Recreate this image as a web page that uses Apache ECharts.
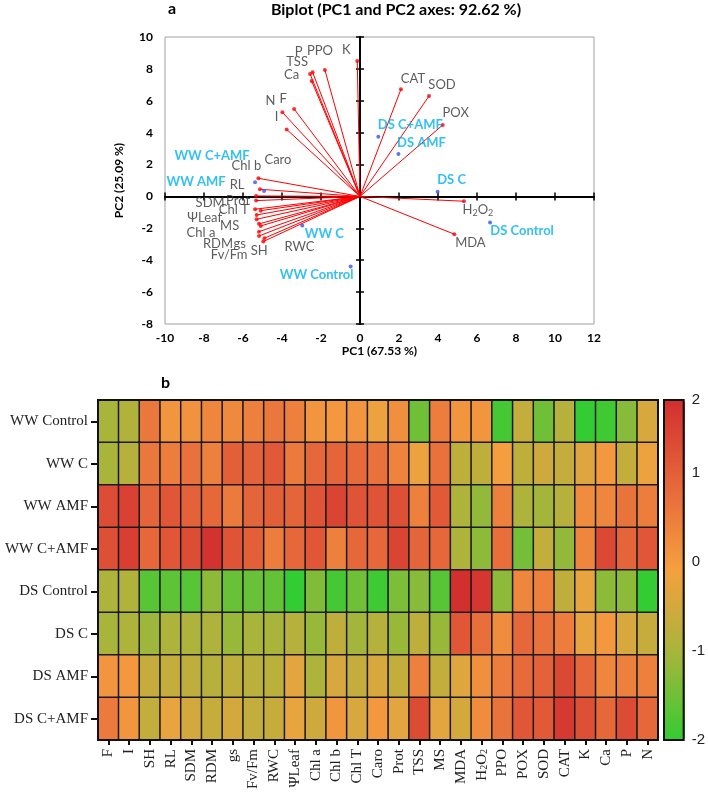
<!DOCTYPE html>
<html><head><meta charset="utf-8">
<script src="https://cdn.jsdelivr.net/npm/echarts@6/dist/echarts.min.js"></script>
<style>html,body{margin:0;padding:0;background:#fff}#c{width:708px;height:796px}</style>
</head><body><div id="c"></div>
<script>
// ---------- Biplot data ----------
const varNames = ['F','I','SH','RL','SDM','RDM','gs','Fv/Fm','RWC','ΨLeaf','Chl a','Chl b','Chl T','Caro','Prot','TSS','MS','MDA','H2O2','PPO','POX','SOD','CAT','K','Ca','P','N'];
const varPC1 = [-3.38,-3.76,-4.96,-5.33,-5.38,-5.18,-5.09,-5.18,-4.90,-5.30,-5.18,-5.21,-5.09,-5.13,-5.33,-2.56,-5.30,4.84,5.33,-1.80,4.24,3.54,2.10,-0.14,-2.48,-2.43,-3.98];
const varPC2 = [5.49,4.20,-2.83,0.03,-0.80,-2.21,-1.85,-2.48,-2.62,-1.16,-1.72,1.14,-0.89,0.45,-0.26,7.68,-1.43,-2.37,-0.30,7.93,4.48,6.30,6.72,8.50,7.24,7.79,5.28];
const obsNames = ['WW Control','WW C','WW AMF','WW C+AMF','DS Control','DS C','DS AMF','DS C+AMF'];
const obsPC1 = [-0.48,-2.96,-5.38,-4.92,6.67,3.98,1.97,0.94];
const obsPC2 = [-4.40,-1.83,0.89,0.34,-1.64,0.30,2.66,3.75];

// ---------- Heatmap data (rows = treatments, columns = varNames) ----------
const hmWWControl = [-1.0,-0.9,0.6,0.1,0.15,0.35,0.3,0.45,0.6,0.45,0.1,0.05,0.1,-0.2,0.2,-1.5,0.5,0.1,0.1,-1.85,-0.7,-1.5,-0.85,-2.0,-1.9,-1.3,-0.45];
const hmWWC       = [-1.0,-0.85,0.6,0.5,0.7,0.45,1.0,0.95,1.1,0.55,0.85,0.9,0.8,0.7,0.4,-0.2,0.7,-0.75,-0.75,-0.05,-0.75,-0.55,-0.7,-0.35,0.05,-0.7,-0.2];
const hmWWAMF     = [1.3,1.5,0.9,1.15,0.95,0.85,0.55,0.9,1.0,0.9,1.2,1.45,1.2,1.2,1.25,0.45,1.1,-0.95,-1.2,0.45,-0.95,-1.05,-0.85,0.25,0.35,0.65,0.5];
const hmWWCAMF    = [1.25,1.55,0.85,1.15,1.3,1.75,1.2,1.0,0.5,0.85,1.15,0.45,0.85,0.85,1.45,0.9,0.85,-0.95,-1.25,0.75,-1.45,-0.7,-1.2,0.35,1.4,0.9,1.15];
const hmDSControl = [-0.95,-0.9,-1.7,-1.65,-1.7,-1.25,-1.55,-1.55,-1.6,-2.0,-1.35,-1.85,-1.5,-1.9,-1.4,-1.3,-1.7,1.8,1.7,-1.25,0.35,0.45,-0.75,-0.25,-1.25,-1.25,-2.0];
const hmDSC       = [-1.0,-0.95,-1.1,-0.95,-0.95,-0.95,-1.15,-1.0,-1.0,-0.85,-1.15,-0.75,-1.05,-0.85,-1.15,-0.75,-1.15,1.15,0.75,0.25,0.85,0.7,0.5,-0.25,0.05,-0.45,-0.65];
const hmDSAMF     = [0.1,0.05,-0.65,-0.7,-0.75,-0.85,-0.75,-0.8,-0.8,-0.3,-0.95,-0.45,-0.7,-0.45,-0.7,0.45,-0.7,-0.35,0.2,0.5,0.8,0.95,1.4,0.85,0.35,0.45,0.45];
const hmDSCAMF    = [0.55,0.1,-0.7,-0.25,-0.5,-0.65,-0.5,-0.7,-0.65,-0.25,-0.55,0.1,-0.45,0.05,-0.3,1.35,-0.3,-0.5,0.25,0.65,1.15,1.1,1.65,1.25,0.85,1.35,0.85];
const hmRows = [hmWWControl,hmWWC,hmWWAMF,hmWWCAMF,hmDSControl,hmDSC,hmDSAMF,hmDSCAMF];
const colorbarMin = -2, colorbarMax = 1.82;

// ---------- label placement (style only) ----------
const varLabelOffset = {
  'K':[-11,-11],'PPO':[-5,-19],'P':[-14,-20],'TSS':[-13,-12],'Ca':[-20,-6],'N':[-12,-11],'F':[-11,-10],'I':[-10,-13],
  'CAT':[12,-10],'SOD':[13,-11],'POX':[13,-12],'H2O2':[14,9],'MDA':[16,9],
  'Chl b':[-12,-12],'Caro':[18,-29],'RL':[-19,-11],'Prot':[-18,0],'SDM':[-45,-6],'Chl T':[-27,-1],'ΨLeaf':[-52,3],
  'MS':[-27,7],'Chl a':[-58,9],'RDM':[-41,12],'gs':[-21,18],'SH':[-4,9],'Fv/Fm':[-30,19],'RWC':[35,9]
};
const obsLabelOffset = {
  'WW C+AMF':[-52,-35],'WW AMF':[-59,0],'WW C':[22,8],'WW Control':[-34,8],
  'DS C+AMF':[32,-12],'DS AMF':[23,-11],'DS C':[14,-12],'DS Control':[32,8]
};
const fmtName = n => n === 'H2O2' ? 'H{s|2}O{s|2}' : n;

const F = 'Lato, "Liberation Sans", sans-serif';
const SERIF = '"Liberation Serif", "Times New Roman", serif';

const bx = {min:-10,max:12,interval:2}, by = {min:-8,max:10,interval:2};
const hidden = {axisLabel:{show:false},splitLine:{show:false}};

const xAxes = [
  Object.assign({gridIndex:0,type:'value',position:'bottom',axisLine:{show:false,onZero:false},axisTick:{show:false},splitLine:{show:false},
    axisLabel:{color:'#000',fontWeight:'bold',fontSize:12,fontFamily:F,margin:8},
    name:'PC1 (67.53 %)',nameLocation:'middle',nameGap:21,nameTextStyle:{color:'#000',fontWeight:'bold',fontSize:12,fontFamily:F}}, bx),
  Object.assign({gridIndex:0,type:'value',axisLine:{show:true,onZero:true,onZeroAxisIndex:0,lineStyle:{color:'#000',width:2}},
    axisTick:{show:true,inside:true,length:4,lineStyle:{color:'#000',width:1.5}}}, bx, hidden),
  Object.assign({gridIndex:0,type:'value',axisLine:{show:true,onZero:true,onZeroAxisIndex:0,lineStyle:{color:'#000',width:2}},
    axisTick:{show:true,inside:false,length:4,lineStyle:{color:'#000',width:1.5}}}, bx, hidden),
  {gridIndex:1,type:'category',data:varNames,position:'bottom',
    axisLine:{show:true,lineStyle:{color:'#111',width:2}},
    axisTick:{show:true,alignWithLabel:true,length:5,lineStyle:{color:'#111',width:2}},
    axisLabel:{rotate:90,color:'#222',fontSize:15,fontFamily:SERIF,margin:9,interval:0,formatter:fmtName,
      rich:{s:{fontSize:10,fontFamily:SERIF,color:'#222',verticalAlign:'bottom',padding:[6,0,0,0]}}},
    splitLine:{show:false}},
  {gridIndex:2,type:'category',data:[''],show:false}
];
const yAxes = [
  Object.assign({gridIndex:0,type:'value',position:'left',axisLine:{show:false,onZero:false},axisTick:{show:false},splitLine:{show:false},
    axisLabel:{color:'#000',fontWeight:'bold',fontSize:12,fontFamily:F,margin:12},
    name:'PC2 (25.09 %)',nameLocation:'middle',nameGap:40,nameRotate:90,nameTextStyle:{color:'#000',fontWeight:'bold',fontSize:12,fontFamily:F}}, by),
  Object.assign({gridIndex:0,type:'value',axisLine:{show:true,onZero:true,onZeroAxisIndex:0,lineStyle:{color:'#000',width:2}},
    axisTick:{show:true,inside:true,length:4,lineStyle:{color:'#000',width:1.5}}}, by, hidden),
  Object.assign({gridIndex:0,type:'value',axisLine:{show:true,onZero:true,onZeroAxisIndex:0,lineStyle:{color:'#000',width:2}},
    axisTick:{show:true,inside:false,length:4,lineStyle:{color:'#000',width:1.5}}}, by, hidden),
  {gridIndex:1,type:'category',data:obsNames,inverse:true,
    axisLine:{show:true,lineStyle:{color:'#111',width:2}},
    axisTick:{show:true,alignWithLabel:true,length:7,lineStyle:{color:'#111',width:2}},
    axisLabel:{color:'#222',fontSize:15,fontFamily:SERIF,margin:10},splitLine:{show:false}},
  {gridIndex:2,type:'value',min:colorbarMin,max:colorbarMax,interval:1,position:'right',
    axisLine:{show:false},axisTick:{show:true,inside:true,length:3,lineStyle:{color:'#111',width:1.5}},
    axisLabel:{color:'#222',fontSize:15,fontFamily:'"Liberation Sans", Arial, sans-serif',margin:8,
      formatter:v => v > 1.5 ? '2' : String(v)},splitLine:{show:false}},
  {gridIndex:2,type:'value',min:colorbarMin,max:colorbarMax,interval:1,position:'left',
    axisLine:{show:false},axisTick:{show:true,inside:true,length:3,lineStyle:{color:'#111',width:1.5}},
    axisLabel:{show:false},splitLine:{show:false}}
];

const heatData = [];
hmRows.forEach((row, r) => row.forEach((v, c) => heatData.push([c, r, v])));

const option = {
  animation:false,
  backgroundColor:'#fff',
  grid:[
    {left:165,top:37,width:429,height:287,show:true,borderColor:'#a0a0a0',borderWidth:1,backgroundColor:'transparent'},
    {left:98,top:400,width:560,height:340},
    {left:664,top:400,width:21,height:340}
  ],
  xAxis:xAxes,
  yAxis:yAxes,
  visualMap:{type:'continuous',min:colorbarMin,max:colorbarMax,seriesIndex:3,calculable:false,
    orient:'vertical',left:664,top:400,itemWidth:21,itemHeight:340,padding:0,
    borderWidth:0,text:null,
    inRange:{color:['#33CC33','#A5B53B','#F5A040','#E6673A','#D22F2F']}},
  series:[
    {type:'lines',coordinateSystem:'cartesian2d',xAxisIndex:0,yAxisIndex:0,silent:true,z:3,
      lineStyle:{color:'#FF0000',width:1,opacity:1},
      data:varNames.map((n,i)=>({coords:[[0,0],[varPC1[i],varPC2[i]]]}))},
    {type:'scatter',xAxisIndex:0,yAxisIndex:0,symbolSize:4,z:4,silent:true,
      itemStyle:{color:'#FF0000'},
      label:{show:true,position:'inside',color:'#333',fontSize:13,fontFamily:F,formatter:p=>fmtName(p.name),
        rich:{s:{fontSize:9,fontFamily:F,color:'#333',verticalAlign:'bottom',padding:[6,0,0,0]}}},
      data:varNames.map((n,i)=>({name:n,value:[varPC1[i],varPC2[i]],label:{offset:varLabelOffset[n]}}))},
    {type:'scatter',xAxisIndex:0,yAxisIndex:0,symbolSize:4,z:4,silent:true,
      itemStyle:{color:'#3355EE'},
      label:{show:true,position:'inside',color:'#00B0F0',fontSize:13,fontWeight:'bold',fontFamily:F,formatter:p=>p.name},
      data:obsNames.map((n,i)=>({name:n,value:[obsPC1[i],obsPC2[i]],label:{offset:obsLabelOffset[n]}}))},
    {type:'heatmap',xAxisIndex:3,yAxisIndex:3,data:heatData,silent:true,
      itemStyle:{borderColor:'#1a1a1a',borderWidth:1.5},emphasis:{disabled:true}}
  ]
};
const chart = echarts.init(document.getElementById('c'));
chart.setOption(option);
const g = chart.getModel().getComponent('grid',2).coordinateSystem.getRect();
const h = chart.getModel().getComponent('grid',1).coordinateSystem.getRect();
chart.setOption({graphic:[
  {type:'text',x:396,y:2,style:{text:'Biplot (PC1 and PC2 axes: 92.62 %)',font:'bold 16px '+F,fill:'#000',textAlign:'center'}},
  {type:'text',x:168,y:1,style:{text:'a',font:'bold 16px '+F,fill:'#000'}},
  {type:'text',x:161,y:375,style:{text:'b',font:'bold 16px '+F,fill:'#000'}},
  {type:'rect',shape:{x:g.x,y:g.y,width:g.width,height:g.height},style:{fill:'none',stroke:'#111',lineWidth:2},z:100,silent:true},
  {type:'rect',shape:{x:h.x,y:h.y,width:h.width,height:h.height},style:{fill:'none',stroke:'#111',lineWidth:2},z:100,silent:true}
]});
</script></body></html>
